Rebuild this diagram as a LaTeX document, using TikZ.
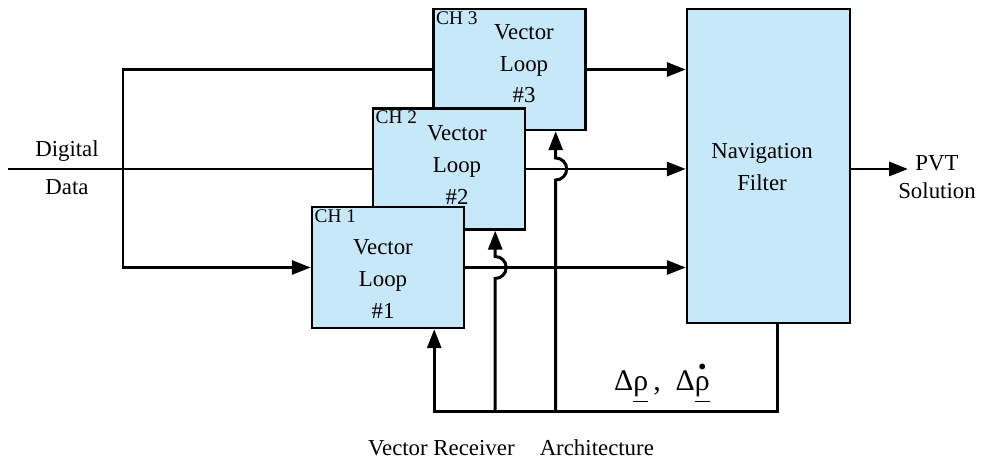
\documentclass[tikz,border=0pt]{standalone}
\usepackage{fontspec}
\setmainfont{Liberation Serif}
\usepackage{amsmath}
\usetikzlibrary{positioning,calc,arrows.meta}
\definecolor{loopblue}{RGB}{199,232,248}

\begin{document}
\begin{tikzpicture}[
            x=0.02cm, y=-0.02cm,
            loopbox/.style={draw, line width=1.4pt, fill=loopblue, minimum width=3.04cm, minimum height=2.42cm, inner sep=0pt},
            navbox/.style={draw, line width=1.4pt, fill=loopblue, minimum width=3.26cm, minimum height=6.28cm, inner sep=0pt},
            looptext/.style={align=center, font=\fontsize{13}{18}\selectfont, inner sep=0pt},
            chtag/.style={anchor=north west, font=\fontsize{11}{13}\selectfont, inner sep=2pt},
            lbl/.style={font=\fontsize{13}{16}\selectfont, inner sep=1pt},
            wire/.style={line width=1.7pt},
            flow/.style={wire, -{Triangle[length=0.38cm, width=0.28cm]}},
        ]
            \useasboundingbox (0,0) rectangle (984,462);

            % vector loops, back to front
            \node[loopbox] (ch3) at (509.5,69.5) {};
            \node[looptext] (ch3text) at (524,64) {Vector\\Loop\\\#3};
            \node[chtag] (ch3tag) at (ch3.north west) {CH 3};

            \node[loopbox] (ch2) at (449,169) {};
            \node[looptext] (ch2text) at (457,165) {Vector\\Loop\\\#2};
            \node[chtag] (ch2tag) at (ch2.north west) {CH 2};

            \node[loopbox] (ch1) at (388,267.5) {};
            \node[looptext] (ch1text) at (383,279) {Vector\\Loop\\\#1};
            \node[chtag] (ch1tag) at (ch1.north west) {CH 1};

            \node[navbox] (nav) at (768.5,166) {};
            \node[looptext] (navtext) at (762,167) {Navigation\\Filter};

            % digital data in
            \coordinate (in) at (8,169);
            \coordinate (split) at (123,169);
            \node[lbl, above=3pt of in, xshift=1.18cm] (digital) {Digital};
            \node[lbl, below=5pt of in, xshift=1.18cm] (data) {Data};
            \draw[wire] (in) -- (ch2.west);
            \draw[wire] (ch3.west) -| (split);
            \draw[flow] (split) |- (ch1.west);

            % loops to filter
            \draw[flow] (ch3.east) -- (ch3.east -| nav.west);
            \draw[flow] (ch2.east) -- (ch2.east -| nav.west);
            \draw[flow] (ch1.east) -- (ch1.east -| nav.west);

            % PVT out
            \coordinate (out) at (908,169);
            \draw[flow] (nav.east |- out) -- (out);
            \node[lbl, align=center] (pvt) at (937,177) {PVT\\Solution};

            % feedback
            \coordinate (fb1) at ([xshift=-0.62cm]ch1.south east);
            \coordinate (fb2) at ([xshift=-0.62cm]ch2.south east);
            \coordinate (fb3) at ([xshift=-0.62cm]ch3.south east);
            \draw[flow] ([xshift=0.17cm]nav.south) -- ++(0,87) coordinate (railR) -| (fb1);
            \draw[flow] (railR -| fb2) -- ($(fb2 |- ch1.east)+(0,11)$)
                arc[start angle=-90, end angle=90, radius=0.22cm] -- (fb2);
            \draw[flow] (railR -| fb3) -- ($(fb3 |- ch2.east)+(0,11)$)
                arc[start angle=-90, end angle=90, radius=0.22cm] -- (fb3);
            \node[font=\fontsize{17}{20}\selectfont] (delta) at (662,382)
                {Δ\underline{ρ}\,,\ \ Δ\underline{$\overset{\scriptscriptstyle\bullet}{\text{ρ}}$}};

            \node[lbl] (caption) at (511,448) {Vector Receiver\hspace{1.1em}Architecture};

        \end{tikzpicture}
\end{document}
